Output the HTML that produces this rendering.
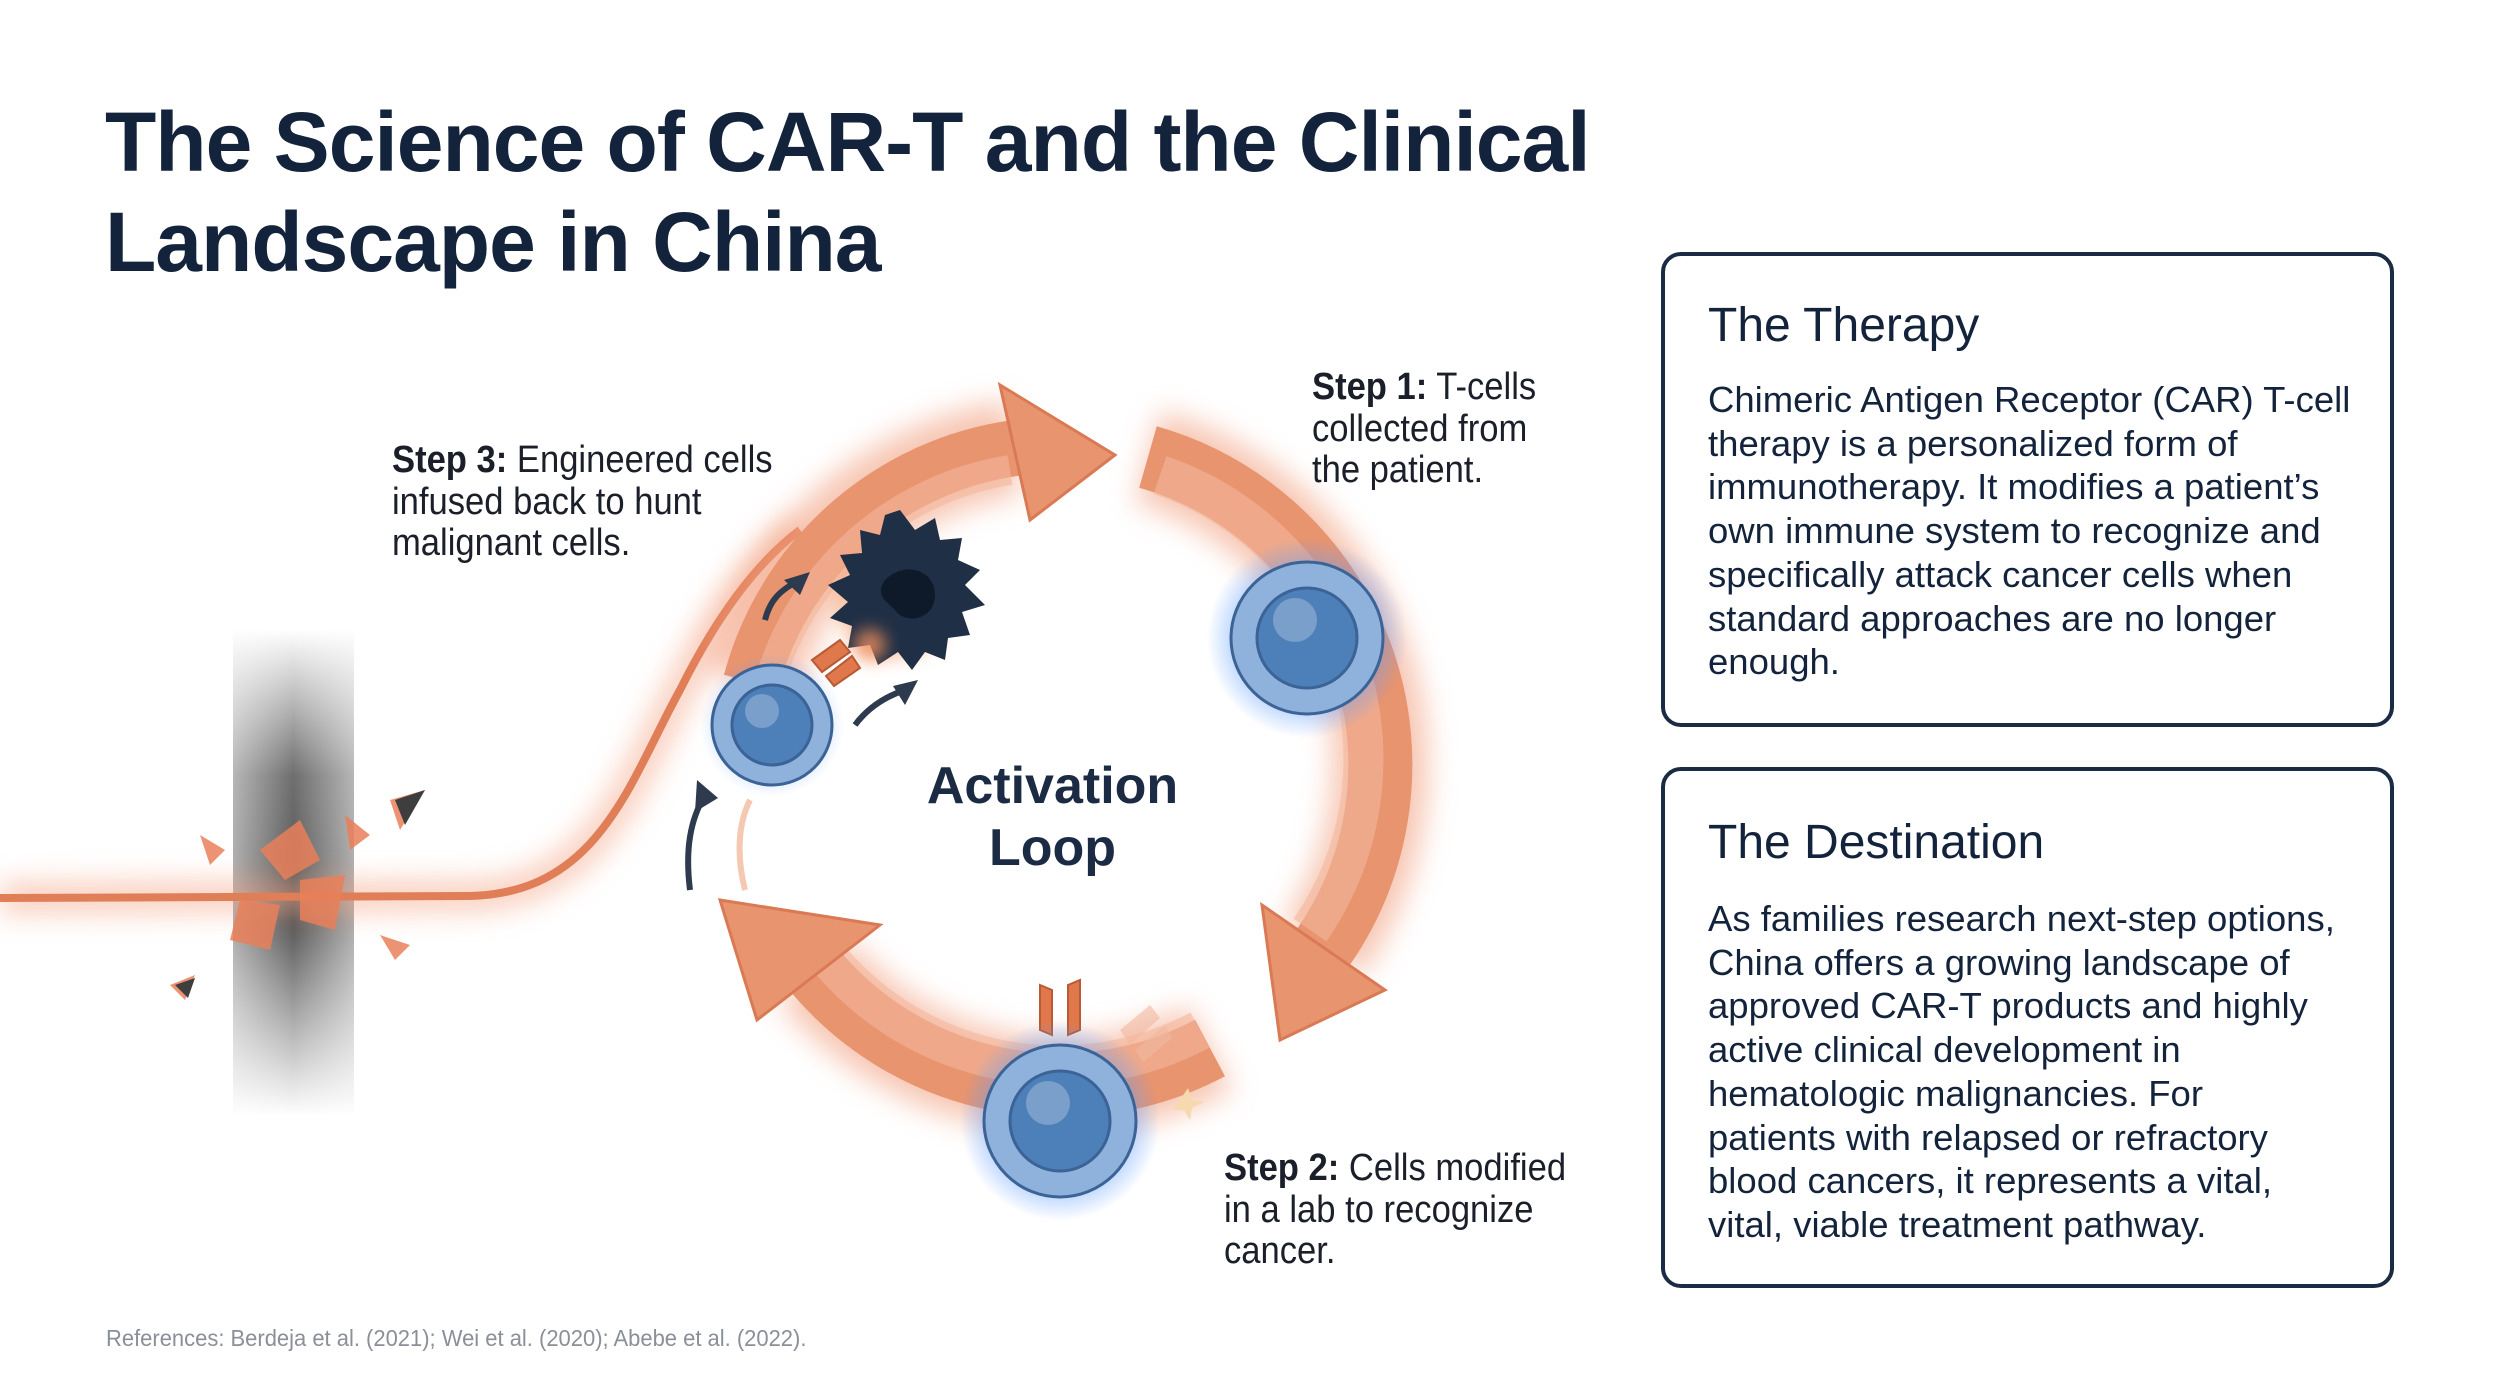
<!DOCTYPE html>
<html><head><meta charset="utf-8">
<style>
html,body{margin:0;padding:0;background:#fff;}
body{width:2500px;height:1395px;position:relative;overflow:hidden;font-family:"Liberation Sans",sans-serif;color:#14233c;}
.title{position:absolute;left:105px;top:92px;font-size:84px;font-weight:bold;line-height:100px;letter-spacing:-1px;color:#14233c;white-space:nowrap;}
.box{position:absolute;left:1661px;width:733px;border:4px solid #1c2b44;border-radius:20px;box-sizing:border-box;}
.box h2{position:absolute;left:43px;margin:0;font-size:48px;font-weight:normal;color:#14233c;}
.box p{position:absolute;left:43px;margin:0;font-size:36.5px;line-height:43.7px;color:#14233c;white-space:nowrap;}
.step{position:absolute;font-size:38px;line-height:41.5px;color:#1a1f2a;white-space:nowrap;transform:scaleX(0.91);transform-origin:0 0;}
.ref{position:absolute;left:106px;top:1325px;font-size:23px;color:#8a8f98;white-space:nowrap;transform:scaleX(0.955);transform-origin:0 0;}
.act{position:absolute;left:900px;top:755px;width:305px;text-align:center;font-size:52px;font-weight:bold;line-height:62px;color:#1c2b44;}
</style></head><body>
<svg width="2500" height="1395" viewBox="0 0 2500 1395" style="position:absolute;left:0;top:0">
<defs>
<filter id="glow" x="-30%" y="-30%" width="160%" height="160%"><feGaussianBlur stdDeviation="14"/></filter>
<filter id="glow2" x="-50%" y="-50%" width="200%" height="200%"><feGaussianBlur stdDeviation="8"/></filter>
<linearGradient id="bar" x1="0" y1="0" x2="0" y2="1">
<stop offset="0" stop-color="#fff"/><stop offset="0.3" stop-color="#6e6e6e"/><stop offset="0.6" stop-color="#555"/><stop offset="1" stop-color="#fff"/></linearGradient>
<linearGradient id="barh" x1="0" y1="0" x2="1" y2="0">
<stop offset="0" stop-color="#fff" stop-opacity="0.5"/><stop offset="0.5" stop-color="#fff" stop-opacity="0"/><stop offset="1" stop-color="#fff" stop-opacity="0.5"/></linearGradient>
<radialGradient id="halo" cx="0.5" cy="0.5" r="0.5">
<stop offset="0.6" stop-color="#5b9bff" stop-opacity="0.6"/><stop offset="1" stop-color="#5b9bff" stop-opacity="0"/></radialGradient>
</defs>
<rect x="233" y="630" width="121" height="486" fill="url(#bar)"/>
<rect x="233" y="630" width="121" height="486" fill="url(#barh)"/>
<path d="M0 898 L470 896 C600 893 630 780 680 690 C720 610 760 560 800 530" fill="none" stroke="#f5a383" stroke-width="30" opacity="0.55" filter="url(#glow)"/>
<path d="M0 898 L470 896 C600 893 630 780 680 690 C720 610 760 560 800 530" fill="none" stroke="#e07e58" stroke-width="8"/>
<g fill="#e9805a" opacity="0.85">
<polygon points="260,850 300,820 320,860 285,880"/><polygon points="300,880 345,875 335,930 300,920"/>
<polygon points="240,900 280,905 270,950 230,940"/><polygon points="390,800 425,790 400,830"/>
<polygon points="200,835 225,850 210,865"/><polygon points="170,985 195,975 185,1000"/>
<polygon points="380,935 410,945 395,960"/><polygon points="345,815 370,835 350,850"/>
</g>
<g fill="#3e3e3e"><polygon points="395,800 425,790 405,825"/><polygon points="175,985 195,978 188,998"/></g>
<g filter="url(#glow)" opacity="0.6" fill="none" stroke="#f2a080" stroke-width="95">
<path d="M1148 457 A320 320 0 0 1 1322 949"/>
<path d="M1210 1048 A320 320 0 0 1 815 971"/>
<path d="M751 682 A320 320 0 0 1 1015 448"/>
</g>
<g fill="none" stroke="#e8946f" stroke-width="64">
<path d="M1148 457 A320 320 0 0 1 1322 949"/>
<path d="M1210 1048 A320 320 0 0 1 815 971"/>
<path d="M751 682 A320 320 0 0 1 1015 448" stroke-width="56"/>
</g>
<g fill="none" stroke="#f3b89d" stroke-width="40" opacity="0.6">
<path d="M1160 475 A300 300 0 0 1 1310 930"/>
<path d="M1200 1030 A300 300 0 0 1 830 960"/>
<path d="M770 680 A300 300 0 0 1 1010 470" stroke-width="30"/>
</g>
<g fill="#e8946f" stroke="#d97a55" stroke-width="3">
<polygon points="1385,990 1262,905 1280,1040"/>
<polygon points="757,1020 880,925 720,900"/>
<polygon points="1000,385 1030,520 1115,455"/>
</g>
<g fill="none" stroke="#2e3a4e" stroke-width="6">
<path d="M690 890 C685 850 690 820 705 795"/><path d="M765 620 C770 600 780 590 800 580"/><path d="M855 725 C870 705 890 695 905 690"/>
</g>
<g fill="#2e3a4e"><polygon points="697,780 718,798 695,812"/><polygon points="810,572 800,595 784,580"/><polygon points="918,680 905,705 893,686"/></g>
<path d="M745 890 C735 850 740 820 750 800" fill="none" stroke="#f0b090" stroke-width="6" opacity="0.7"/>
<circle cx="895" cy="600" r="60" fill="#f5a070" opacity="0.5" filter="url(#glow2)"/>
<polygon fill="#1f2f45" points="900,510 915,530 935,518 940,540 962,538 958,560 980,570 965,585 985,605 962,612 970,635 948,638 945,660 925,652 912,670 898,652 878,665 870,645 848,648 852,626 830,618 848,602 828,585 850,575 840,555 862,553 860,530 880,535 885,515"/>
<path d="M885 580 C905 560 935 570 935 595 C935 620 905 625 895 610 C885 600 875 595 885 580Z" fill="#0e1a2a"/>
<circle cx="870" cy="645" r="16" fill="#f0905e" opacity="0.8" filter="url(#glow2)"/>
<g fill="#e0784c" stroke="#b85a35" stroke-width="2">
<polygon points="812,660 840,640 850,652 822,672"/><polygon points="826,676 852,656 860,668 834,686"/>
<polygon points="1040,985 1052,990 1052,1035 1040,1030"/><polygon points="1068,985 1080,980 1080,1030 1068,1035"/>
</g>
<g fill="#f2b8a0" opacity="0.6"><polygon points="1120,1030 1150,1005 1160,1018 1130,1045"/><polygon points="1135,1050 1165,1025 1172,1038 1143,1062"/></g>
<path d="M1180 1100 l8 -12 l4 12 l12 2 l-12 6 l-2 12 l-6 -10 l-12 0z" fill="#f7d9b0"/>
<circle cx="1307" cy="638" r="100" fill="url(#halo)"/>
<circle cx="1060" cy="1121" r="100" fill="url(#halo)"/>
<circle cx="772" cy="725" r="72" fill="url(#halo)" opacity="0.5"/>
<g stroke="#3b6396" stroke-width="3">
<circle cx="1307" cy="638" r="76" fill="#8fb2dc"/><circle cx="1307" cy="638" r="50" fill="#4d7fb9"/>
<circle cx="1060" cy="1121" r="76" fill="#8fb2dc"/><circle cx="1060" cy="1121" r="50" fill="#4d7fb9"/>
<circle cx="772" cy="725" r="60" fill="#8fb2dc"/><circle cx="772" cy="725" r="40" fill="#4d7fb9"/>
</g>
<g fill="#fff" opacity="0.25"><circle cx="1295" cy="620" r="22"/><circle cx="1048" cy="1103" r="22"/><circle cx="762" cy="711" r="17"/></g>
</svg>

<div class="title">The Science of CAR-T and the Clinical<br>Landscape in China</div>

<div class="box" style="top:252px;height:475px;">
<h2 style="top:42px;">The Therapy</h2>
<p style="top:122px;">Chimeric Antigen Receptor (CAR) T-cell<br>therapy is a personalized form of<br>immunotherapy. It modifies a patient’s<br>own immune system to recognize and<br>specifically attack cancer cells when<br>standard approaches are no longer<br>enough.</p>
</div>
<div class="box" style="top:767px;height:521px;">
<h2 style="top:44px;">The Destination</h2>
<p style="top:126px;">As families research next-step options,<br>China offers a growing landscape of<br>approved CAR-T products and highly<br>active clinical development in<br>hematologic malignancies. For<br>patients with relapsed or refractory<br>blood cancers, it represents a vital,<br>vital, viable treatment pathway.</p>
</div>

<div class="step" style="left:392px;top:440px;"><b>Step 3:</b> Engineered cells<br>infused back to hunt<br>malignant cells.</div>
<div class="step" style="left:1312px;top:367px;"><b>Step 1:</b> T-cells<br>collected from<br>the patient.</div>
<div class="step" style="left:1224px;top:1148px;"><b>Step 2:</b> Cells modified<br>in a lab to recognize<br>cancer.</div>
<div class="act">Activation<br>Loop</div>
<div class="ref">References: Berdeja et al. (2021); Wei et al. (2020); Abebe et al. (2022).</div>
</body></html>
